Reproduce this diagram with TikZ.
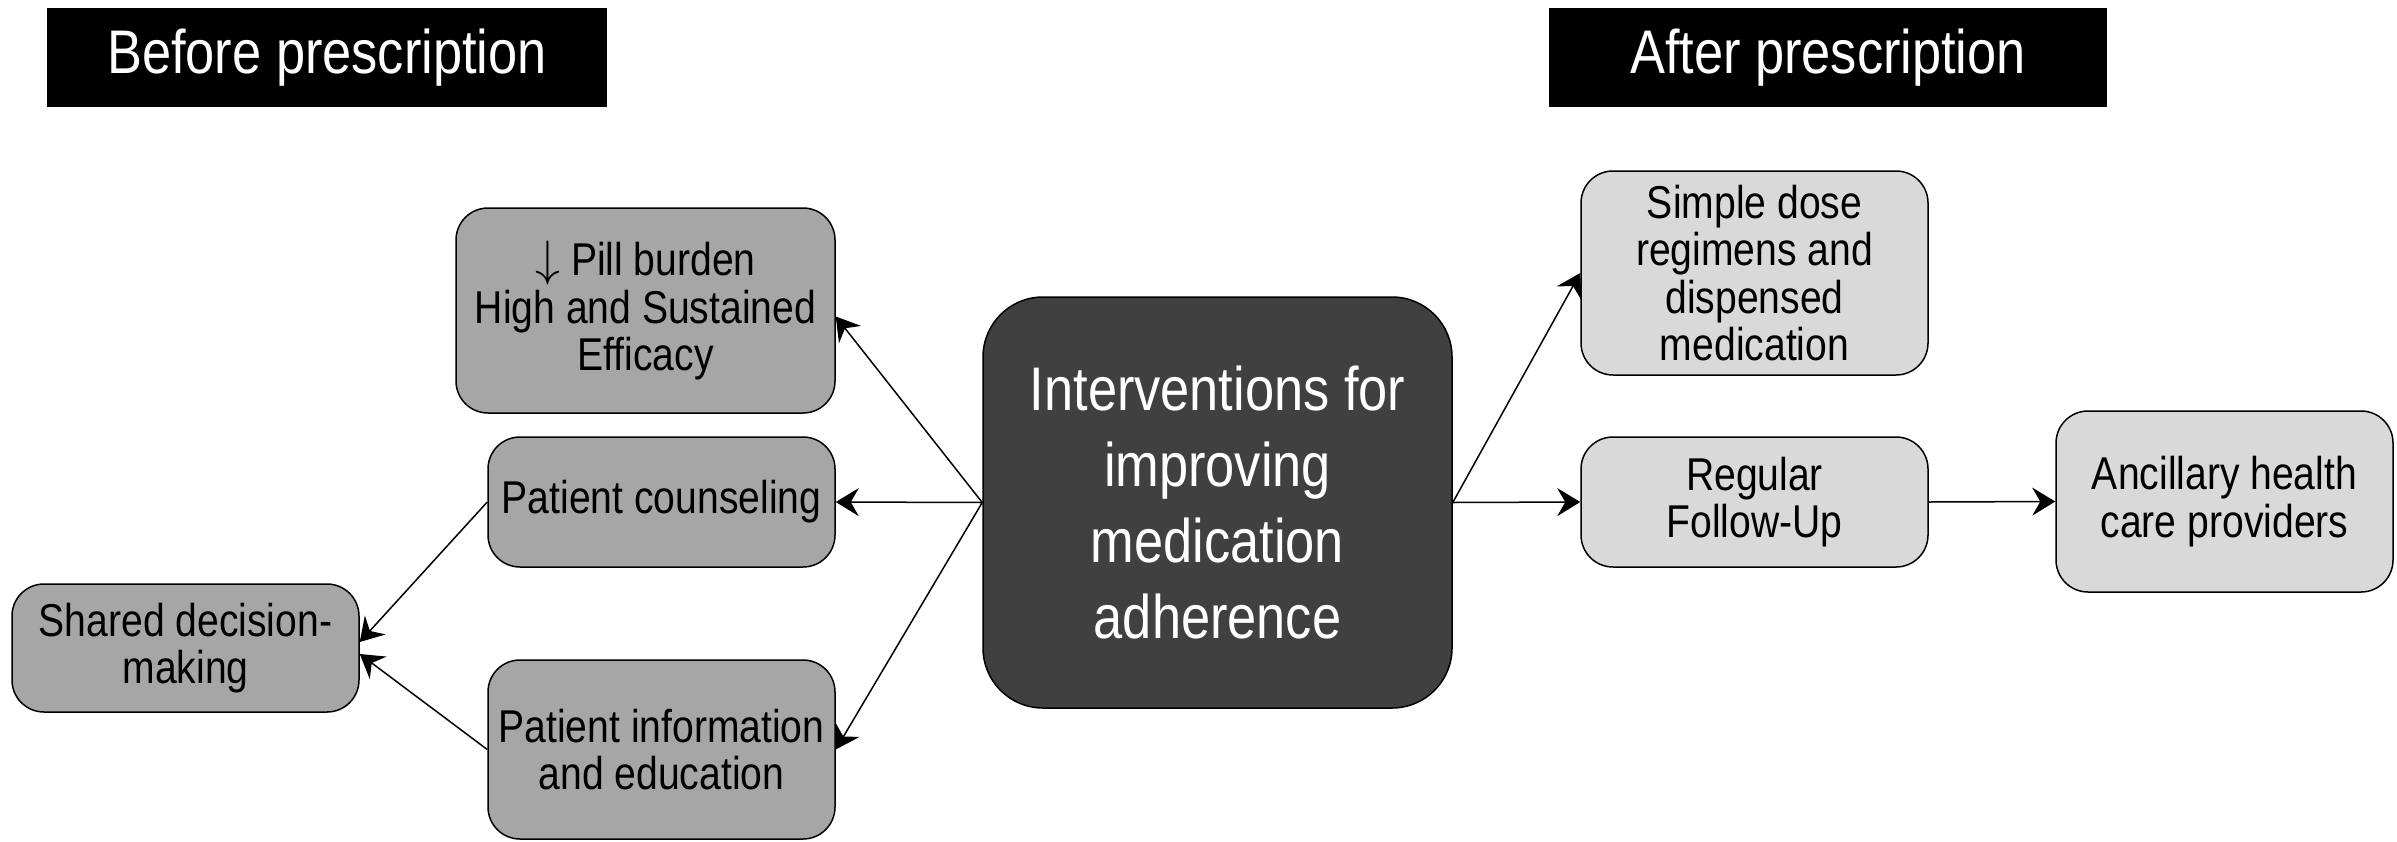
\documentclass[tikz,border=0pt]{standalone}
\usepackage{fontspec}
\setmainfont{Liberation Sans}[FakeStretch=0.85]
\usetikzlibrary{arrows.meta}
\definecolor{darkbox}{HTML}{404040}
\definecolor{midbox}{HTML}{A6A6A6}
\definecolor{lightbox}{HTML}{D9D9D9}
\begin{document}
\begin{tikzpicture}[x=0.5pt,y=-0.5pt,
  header/.style={fill=black,text=white,inner sep=0pt,align=center,
    font=\fontsize{30.8}{38}\selectfont},
  boxbase/.style={draw=black,line width=0.75pt,rounded corners=16pt,inner sep=2pt,align=center,
    font=\fontsize{23}{23.7}\selectfont},
  midnode/.style={boxbase,fill=midbox},
  lightnode/.style={boxbase,fill=lightbox},
  centernode/.style={draw=black,line width=0.75pt,rounded corners=30pt,fill=darkbox,text=white,
    align=center,font=\fontsize{30.8}{38}\selectfont},
  conn/.style={line width=0.75pt,-{Stealth[length=11.5pt,width=14pt,inset=4pt]}}
]
\useasboundingbox (0,0) rectangle (2397,841);
\node[header,minimum width=280pt,minimum height=49.5pt] (hb) at (327,57.5) {Before prescription};
\node[header,minimum width=279pt,minimum height=49.5pt] (ha) at (1828,57.5) {After prescription};

\node[midnode,minimum width=189.5pt,minimum height=102.5pt] (pill) at (645.5,310.5) {$\downarrow$ Pill burden\\High and Sustained\\Efficacy};
\node[midnode,minimum width=173.5pt,minimum height=65pt] (couns) at (661.5,502) {Patient counseling};
\node[midnode,minimum width=173.5pt,minimum height=89.5pt] (info) at (661.5,749.5) {Patient information\\and education};
\node[midnode,minimum width=173.5pt,minimum height=64pt] (shared) at (185.5,648) {Shared decision-\\making};

\node[centernode,minimum width=234.5pt,minimum height=205.5pt] (center) at (1217.5,502.5) {Interventions for\\improving\\medication\\adherence};

\node[lightnode,minimum width=173.5pt,minimum height=102pt] (simple) at (1754.5,273) {Simple dose\\regimens and\\dispensed\\medication};
\node[lightnode,minimum width=173.5pt,minimum height=65pt] (regular) at (1754.5,502) {Regular\\Follow-Up};
\node[lightnode,minimum width=168.5pt,minimum height=90.5pt] (anc) at (2224.5,501.5) {Ancillary health\\care providers};

\draw[conn] (center.west) -- ([yshift=-3pt]pill.east);
\draw[conn] (center.west) -- (couns.east);
\draw[conn] (center.west) -- (info.east);
\draw[conn] (couns.west) -- ([yshift=3pt]shared.east);
\draw[conn] (info.west) -- ([yshift=-3pt]shared.east);
\draw[conn] (center.east) -- (simple.west);
\draw[conn] (center.east) -- (regular.west);
\draw[conn] (regular.east) -- (anc.west);
\end{tikzpicture}
\end{document}
